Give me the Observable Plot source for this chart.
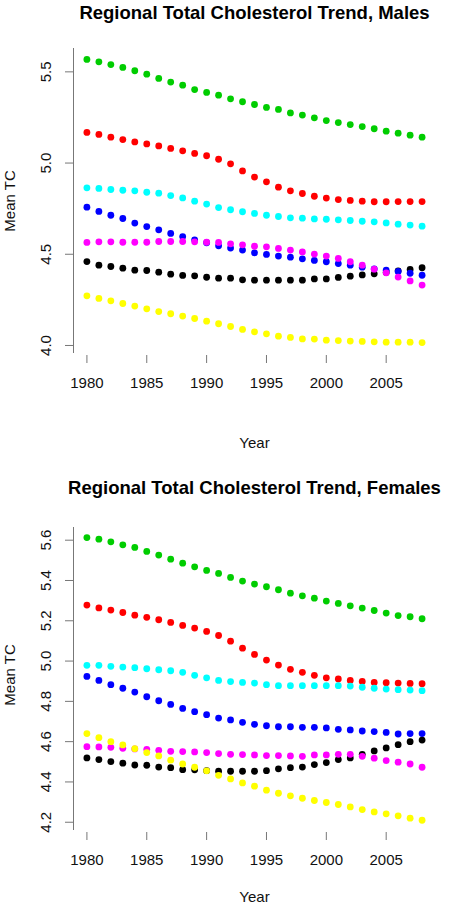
<!DOCTYPE html>
<html>
<head>
<meta charset="utf-8">
<script src="https://cdn.jsdelivr.net/npm/d3@7"></script>
<script src="https://cdn.jsdelivr.net/npm/@observablehq/plot@0.6"></script>
<style>
  html, body { margin: 0; padding: 0; background: #fff; }
  svg { display: block; }
</style>
</head>
<body>
<div id="top"></div>
<div id="bottom"></div>
<script>
const years = [1980,1981,1982,1983,1984,1985,1986,1987,1988,1989,1990,1991,1992,1993,1994,1995,1996,1997,1998,1999,2000,2001,2002,2003,2004,2005,2006,2007,2008];
const xTicks = [1980, 1985, 1990, 1995, 2000, 2005];
const maleYTicks = [4.0, 4.5, 5.0, 5.5];
const femaleYTicks = [4.2, 4.4, 4.6, 4.8, 5.0, 5.2, 5.4, 5.6];

const seriesColors = {green: "#00cd00", red: "#ff0000", cyan: "#00ffff", blue: "#0000ff", magenta: "#ff00ff", black: "#000000", yellow: "#ffff00"};

const maleGreen   = [5.568,5.555,5.540,5.524,5.506,5.487,5.464,5.444,5.427,5.403,5.387,5.372,5.352,5.336,5.321,5.305,5.294,5.275,5.263,5.248,5.233,5.222,5.211,5.200,5.188,5.175,5.164,5.153,5.142];
const maleRed     = [5.168,5.157,5.142,5.129,5.116,5.105,5.094,5.080,5.067,5.053,5.040,5.021,4.996,4.957,4.923,4.897,4.868,4.848,4.833,4.818,4.808,4.800,4.795,4.791,4.788,4.788,4.789,4.789,4.789];
const maleCyan    = [4.864,4.861,4.855,4.851,4.848,4.840,4.835,4.822,4.809,4.791,4.775,4.756,4.744,4.733,4.724,4.714,4.707,4.700,4.698,4.694,4.692,4.689,4.685,4.681,4.678,4.672,4.665,4.660,4.654];
const maleBlue    = [4.758,4.735,4.714,4.696,4.671,4.652,4.634,4.614,4.597,4.579,4.563,4.546,4.534,4.523,4.508,4.499,4.490,4.484,4.475,4.466,4.459,4.449,4.440,4.429,4.420,4.413,4.406,4.396,4.385];
const maleMagenta = [4.565,4.568,4.568,4.566,4.566,4.566,4.570,4.570,4.570,4.568,4.566,4.565,4.557,4.552,4.544,4.541,4.532,4.523,4.513,4.501,4.490,4.477,4.459,4.440,4.418,4.398,4.375,4.354,4.331];
const maleBlack   = [4.460,4.440,4.433,4.424,4.413,4.411,4.402,4.391,4.384,4.382,4.374,4.369,4.369,4.360,4.358,4.358,4.358,4.358,4.358,4.365,4.365,4.373,4.380,4.387,4.393,4.400,4.409,4.417,4.426];
const maleYellow  = [4.272,4.258,4.245,4.230,4.216,4.201,4.186,4.174,4.161,4.148,4.133,4.119,4.104,4.088,4.075,4.064,4.051,4.044,4.036,4.035,4.029,4.027,4.024,4.022,4.020,4.018,4.018,4.018,4.016];

const femaleGreen   = [5.613,5.605,5.592,5.577,5.564,5.544,5.526,5.506,5.486,5.468,5.450,5.435,5.415,5.397,5.382,5.369,5.354,5.337,5.324,5.312,5.298,5.286,5.274,5.263,5.251,5.238,5.226,5.220,5.210];
const femaleRed     = [5.278,5.264,5.253,5.241,5.228,5.217,5.205,5.192,5.177,5.164,5.147,5.127,5.099,5.064,5.033,5.005,4.980,4.959,4.944,4.929,4.917,4.911,4.904,4.899,4.894,4.893,4.891,4.889,4.888];
const femaleCyan    = [4.979,4.979,4.974,4.970,4.967,4.962,4.957,4.952,4.944,4.929,4.917,4.904,4.898,4.894,4.891,4.883,4.878,4.878,4.878,4.878,4.878,4.878,4.876,4.870,4.865,4.861,4.858,4.856,4.853];
const femaleBlue    = [4.924,4.904,4.883,4.865,4.846,4.823,4.803,4.785,4.765,4.749,4.734,4.717,4.708,4.696,4.686,4.679,4.674,4.674,4.671,4.671,4.668,4.661,4.658,4.653,4.650,4.646,4.638,4.640,4.640];
const femaleMagenta = [4.575,4.574,4.572,4.567,4.564,4.562,4.557,4.552,4.551,4.549,4.546,4.541,4.537,4.536,4.534,4.531,4.531,4.529,4.527,4.534,4.534,4.537,4.537,4.527,4.518,4.506,4.498,4.489,4.473];
const femaleBlack   = [4.519,4.511,4.501,4.493,4.484,4.483,4.474,4.471,4.461,4.460,4.456,4.453,4.453,4.453,4.453,4.456,4.465,4.471,4.474,4.486,4.496,4.511,4.519,4.537,4.554,4.569,4.585,4.600,4.608];
const femaleYellow  = [4.640,4.620,4.600,4.584,4.565,4.546,4.529,4.508,4.489,4.473,4.455,4.433,4.415,4.395,4.379,4.359,4.344,4.331,4.319,4.308,4.298,4.288,4.276,4.263,4.251,4.242,4.232,4.220,4.210];

const maleSeries = [
  ["green", maleGreen], ["red", maleRed], ["cyan", maleCyan], ["black", maleBlack],
  ["blue", maleBlue], ["magenta", maleMagenta], ["yellow", maleYellow]
];
const femaleSeries = [
  ["green", femaleGreen], ["red", femaleRed], ["cyan", femaleCyan], ["blue", femaleBlue],
  ["black", femaleBlack], ["magenta", femaleMagenta], ["yellow", femaleYellow]
];

const FONT = "'Liberation Sans', Arial, Helvetica, sans-serif";
const AXIS_COLOR = "#777";
const xDomain = [1978.88, 2009.12];

function panel({title, series, yDomain, yTicks, height, marginTop, marginBottom, titleDy, yearDy, yLabelDy}) {
  const marks = [
    Plot.ruleX([xDomain[0]], {stroke: AXIS_COLOR, strokeWidth: 1}),
    Plot.axisY({ticks: yTicks, tickSize: 8, tickFormat: () => "", stroke: AXIS_COLOR, label: null}),
    Plot.text(yTicks, {y: d => d, text: d => d.toFixed(1), frameAnchor: "left", dx: -27, rotate: -90,
                       textAnchor: "middle", lineAnchor: "middle", fill: "#111"}),
    Plot.axisX({ticks: xTicks, tickSize: 8, dy: 2, tickFormat: () => "", stroke: AXIS_COLOR, label: null}),
    Plot.text(xTicks, {x: d => d, text: d => String(d), frameAnchor: "bottom", dy: 29.5,
                       lineAnchor: "middle", fill: "#111"}),
    ...series.map(([name, values]) =>
      Plot.dot(years.map((year, i) => ({year, value: values[i]})),
               {x: "year", y: "value", r: 3.4, fill: seriesColors[name]})
    ),
    Plot.text([title], {frameAnchor: "top", dy: titleDy, lineAnchor: "bottom",
                        fontWeight: "bold", fontSize: 18.5, fill: "#000"}),
    Plot.text(["Year"], {frameAnchor: "bottom", dy: yearDy, lineAnchor: "middle", fill: "#111"}),
    Plot.text(["Mean TC"], {frameAnchor: "left", dx: -63, dy: yLabelDy, rotate: -90,
                            textAnchor: "middle", lineAnchor: "middle", fill: "#111"})
  ];
  return Plot.plot({
    width: 450,
    height,
    marginLeft: 73,
    marginRight: 15,
    marginTop,
    marginBottom,
    style: {fontFamily: FONT, fontSize: "15px", background: "#fff", overflow: "visible"},
    x: {domain: xDomain, axis: null},
    y: {domain: yDomain, axis: null},
    marks
  });
}

document.getElementById("top").append(panel({
  title: "Regional Total Cholesterol Trend, Males",
  series: maleSeries,
  yDomain: [3.956, 5.628],
  yTicks: maleYTicks,
  height: 452,
  marginTop: 48,
  marginBottom: 99,
  titleDy: -30,
  yearDy: 90,
  yLabelDy: 0
}));

document.getElementById("bottom").append(panel({
  title: "Regional Total Cholesterol Trend, Females",
  series: femaleSeries,
  yDomain: [4.159, 5.663],
  yTicks: femaleYTicks,
  height: 453,
  marginTop: 75,
  marginBottom: 75,
  titleDy: -34,
  yearDy: 67,
  yLabelDy: -4
}));
</script>
</body>
</html>
